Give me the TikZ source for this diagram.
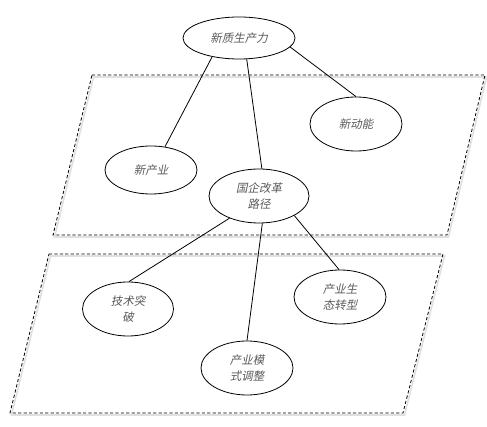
\documentclass[tikz,border=0pt]{standalone}
\usepackage{fontspec}
\newfontfamily\cjk[FakeSlant=0.2]{Noto Sans CJK SC}
\usetikzlibrary{shapes.geometric}
\definecolor{txt}{HTML}{5A5A5A}
\tikzset{
  el/.style={ellipse, draw=black, line width=0.8pt, fill=white, inner sep=0pt,
    align=center, text=txt, font=\cjk\fontsize{11.5}{16}\selectfont},
  plane/.style={draw=black, line width=0.8pt, dash pattern=on 3.2pt off 2.2pt},
  planeshadow/.style={draw=black!12, line width=1.6pt},
  link/.style={draw=black, line width=0.8pt}
}
\begin{document}
\begin{tikzpicture}[x=1pt,y=-1pt]
\useasboundingbox (0,0) rectangle (487,427);
% planes
\draw[planeshadow] (93.5,77) -- (486.5,77) -- (448.5,237) -- (54.5,237) -- cycle;
\draw[plane] (92,75) -- (485,75) -- (447,235) -- (53,235) -- cycle;
\draw[planeshadow] (50.5,256) -- (444.5,256) -- (404.5,415) -- (11.5,415) -- cycle;
\draw[plane] (49,254) -- (443,254) -- (403,413) -- (10,413) -- cycle;
% nodes
\node[el, minimum width=112pt, minimum height=42pt] (xz) at (239,38) {新质生产力};
\node[el, minimum width=92pt, minimum height=54pt] (dn) at (356,124) {新动能};
\node[el, minimum width=92pt, minimum height=48pt] (cy) at (151,170) {新产业};
\node[el, minimum width=100pt, minimum height=54pt] (gq) at (259,196) {国企改革\\路径};
\node[el, minimum width=91pt, minimum height=54pt] (js) at (128,309) {技术突\\破};
\node[el, minimum width=92pt, minimum height=54pt] (st) at (340,297) {产业生\\态转型};
\node[el, minimum width=92pt, minimum height=54pt] (ms) at (247,368) {产业模\\式调整};
% links
\draw[link] (xz.215) -- (cy.59);
\draw[link] (xz.290) -- (gq.84);
\draw[link] (xz.350) -- (dn.90);
\draw[link] (gq.217) -- (js.88);
\draw[link] (gq.277) -- (ms.90);
\draw[link] (gq.331) -- (st.92);
\end{tikzpicture}
\end{document}
